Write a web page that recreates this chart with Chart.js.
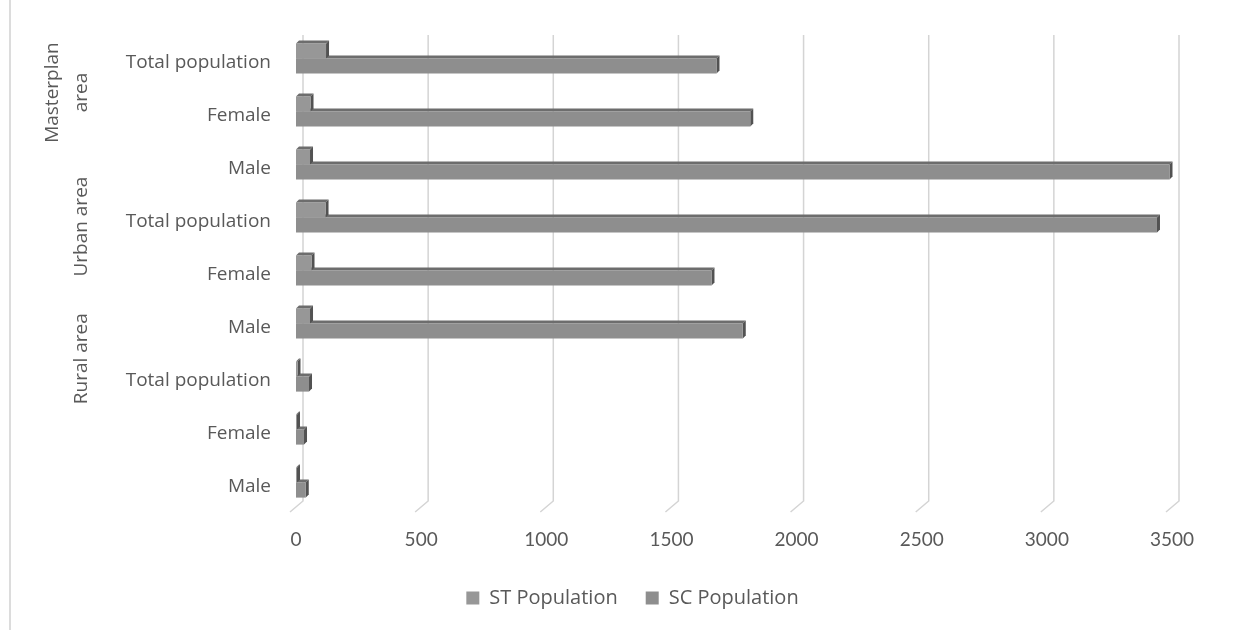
<!DOCTYPE html>
<html>
<head>
<meta charset="utf-8">
<script src="https://cdn.jsdelivr.net/npm/chart.js@4.4.1/dist/chart.umd.min.js"></script>
<style>
  html, body { margin: 0; padding: 0; background: #ffffff; }
  #wrap { position: relative; width: 1237px; height: 630px; }
  #edge { position: absolute; left: 9px; top: 0; width: 2px; height: 630px; background: #dcdcdc; }
</style>
</head>
<body>
<div id="wrap">
  <div id="edge"></div>
  <canvas id="c" width="1237" height="630"></canvas>
</div>
<script>
// Rows, top to bottom
const categories = [
  'Total population', 'Female', 'Male',
  'Total population', 'Female', 'Male',
  'Total population', 'Female', 'Male'
];
// Area groups (each spans three rows); multi-line names are split into lines
const groupNames = [['Masterplan', 'area'], ['Urban area'], ['Rural area']];

const stPopulation = [120, 58, 56, 118, 62, 56, 6, 4, 4];
const scPopulation = [1680, 1815, 3490, 3440, 1660, 1785, 52, 32, 39];

const xTicks = [0, 500, 1000, 1500, 2000, 2500, 3000, 3500];

const TEXT = '#595959';
const FACE_TOP = '#6d6d6d';
const FACE_SIDE = '#525252';

// Back wall grid lines with a short floor edge, plus the depth faces of each bar
const depthPlugin = {
  id: 'depth',
  beforeDatasetsDraw(chart) {
    const { ctx, chartArea: a, scales: { x } } = chart;
    ctx.save();
    ctx.strokeStyle = '#d4d4d4';
    ctx.lineWidth = 1.5;
    xTicks.forEach(v => {
      const px = x.getPixelForValue(v);
      ctx.beginPath();
      ctx.moveTo(px + 7, a.top + 3);
      ctx.lineTo(px + 7, a.bottom - 8);
      ctx.lineTo(px - 6, a.bottom + 3);
      ctx.stroke();
    });
    const d = 3;
    [1, 0].forEach(di => {
      chart.getDatasetMeta(di).data.forEach(bar => {
        const p = bar.getProps(['x', 'y', 'base', 'height'], true);
        const top = p.y - p.height / 2, bottom = p.y + p.height / 2;
        const l = Math.min(p.base, p.x), r = Math.max(p.base, p.x);
        ctx.fillStyle = FACE_TOP;
        ctx.beginPath();
        ctx.moveTo(l, top); ctx.lineTo(l + d, top - d);
        ctx.lineTo(r + d, top - d); ctx.lineTo(r, top);
        ctx.closePath(); ctx.fill();
        ctx.fillStyle = FACE_SIDE;
        ctx.beginPath();
        ctx.moveTo(r, top); ctx.lineTo(r + d, top - d);
        ctx.lineTo(r + d, bottom - d); ctx.lineTo(r, bottom);
        ctx.closePath(); ctx.fill();
      });
    });
    ctx.restore();
  }
};

// Rotated area names on the far left
const groupCenters = [0.127, 0.408, 0.685];
const groupPlugin = {
  id: 'groups',
  afterDraw(chart) {
    const { ctx, chartArea: a } = chart;
    ctx.save();
    ctx.fillStyle = TEXT;
    ctx.font = '19px "Open Sans"';
    ctx.textAlign = 'center';
    ctx.textBaseline = 'middle';
    groupNames.forEach((lines, i) => {
      const cy = a.top + groupCenters[i] * a.height;
      lines.forEach((line, j) => {
        const cx = 82 - (lines.length - 1 - j) * 29;
        ctx.save();
        ctx.translate(cx, cy);
        ctx.rotate(-Math.PI / 2);
        ctx.fillText(line, 0, 0);
        ctx.restore();
      });
    });
    ctx.restore();
  }
};

new Chart(document.getElementById('c'), {
  type: 'bar',
  data: {
    labels: categories,
    datasets: [
      { label: 'ST Population', data: stPopulation, backgroundColor: '#979797', borderWidth: 0 },
      { label: 'SC Population', data: scPopulation, backgroundColor: '#8e8e8e', borderWidth: 0 }
    ]
  },
  options: {
    indexAxis: 'y',
    responsive: false,
    animation: false,
    devicePixelRatio: 1,
    categoryPercentage: 0.57,
    barPercentage: 1.0,
    layout: { padding: { left: 93, right: 65, top: 32, bottom: 12 } },
    scales: {
      x: {
        min: 0,
        max: 3500,
        afterBuildTicks(scale) { scale.ticks = xTicks.map(v => ({ value: v })); },
        afterFit(scale) { scale.height = 51; },
        grid: { display: false, drawTicks: false },
        border: { display: false },
        ticks: {
          color: TEXT,
          font: { family: 'Lato', size: 19 },
          padding: 19,
          callback: v => String(v)
        }
      },
      y: {
        afterFit(scale) {
          scale.width = 203;
          scale.paddingTop = 0;
          scale.paddingBottom = 0;
        },
        grid: { display: false, drawTicks: false },
        border: { display: false },
        ticks: { color: TEXT, font: { family: 'Open Sans', size: 19 }, padding: 25, labelOffset: 4 }
      }
    },
    plugins: {
      legend: {
        position: 'bottom',
        labels: {
          boxWidth: 13,
          boxHeight: 13,
          padding: 28,
          color: TEXT,
          font: { family: 'Open Sans', size: 20 }
        }
      },
      tooltip: { enabled: false }
    }
  },
  plugins: [depthPlugin, groupPlugin]
});
</script>
</body>
</html>
